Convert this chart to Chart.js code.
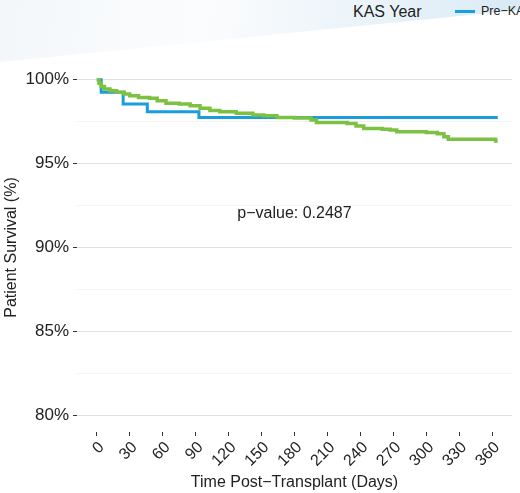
<!DOCTYPE html>
<html>
<head>
<meta charset="utf-8">
<script src="https://cdn.jsdelivr.net/npm/chart.js@4"></script>
<style>
  html, body { margin: 0; padding: 0; background: #fff; }
  #wrap { position: relative; width: 520px; height: 493px; overflow: hidden; font-family: "Liberation Sans", Arial, sans-serif; }
  #swoosh { position: absolute; left: 0; top: 0; width: 520px; height: 140px;
    background: linear-gradient(100deg, rgba(240,245,249,0.8) 0%, rgba(251,252,253,0.9) 38%, rgba(238,245,250,1) 62%, rgba(214,233,245,1) 100%);
    clip-path: polygon(0 0, 520px 0, 520px 10px, 0 62px); }
  #canvasBox { position: absolute; left: 0; top: 0; width: 520px; height: 493px; }
  .legTitle { position: absolute; left: 353px; top: 3px; font-size: 16px; color: #222; }
  .legKey { position: absolute; left: 455px; top: 10px; width: 20px; height: 3px; background: #1b9ddb; }
  .legText { position: absolute; left: 481px; top: 4px; font-size: 12.5px; color: #222; white-space: nowrap; }
</style>
</head>
<body>
<div id="wrap">
  <div id="swoosh"></div>
  <div class="legTitle">KAS Year</div>
  <div class="legKey"></div>
  <div class="legText">Pre−KAS</div>
  <div id="canvasBox"><canvas id="km" width="520" height="493"></canvas></div>
</div>
<script>
// 数据：Kaplan-Meier 生存曲线 (天, 生存率%)
const preDays = [0, 4, 24, 46, 93, 365];
const preSurv = [100, 99.25, 98.55, 98.1, 97.75, 97.75];

const postDays = [0, 2, 4, 7, 12, 18, 25, 30, 38, 48, 55, 63, 75, 85, 94, 103, 112, 127, 142, 152, 164, 180, 195, 200, 228, 236, 243, 260, 267, 273, 300, 310, 316, 320, 363, 365];
const postSurv = [100, 99.8, 99.6, 99.45, 99.35, 99.25, 99.15, 99.05, 98.95, 98.9, 98.75, 98.6, 98.55, 98.45, 98.3, 98.17, 98.1, 98.0, 97.9, 97.85, 97.75, 97.72, 97.6, 97.45, 97.4, 97.25, 97.1, 97.05, 97.0, 96.9, 96.85, 96.78, 96.6, 96.45, 96.35, 96.35];

const xTicks = [0, 30, 60, 90, 120, 150, 180, 210, 240, 270, 300, 330, 360];
const yTicks = [80, 82.5, 85, 87.5, 90, 92.5, 95, 97.5, 100];

const pLabel = 'p−value: 0.2487';
const pPos = { x: 180, y: 92.0 };

function toPoints(xs, ys) {
    return xs.map((x, i) => ({ x: x, y: ys[i] }));
}

// p值标注
const pValuePlugin = {
    id: 'pValue',
    afterDatasetsDraw(chart) {
        const ctx = chart.ctx;
        const x = chart.scales.x.getPixelForValue(pPos.x);
        const y = chart.scales.y.getPixelForValue(pPos.y);
        ctx.save();
        ctx.font = '16px "Liberation Sans", Arial, sans-serif';
        ctx.fillStyle = '#222';
        ctx.textAlign = 'center';
        ctx.textBaseline = 'middle';
        ctx.fillText(pLabel, x, y);
        ctx.restore();
    }
};

const font = { family: '"Liberation Sans", Arial, sans-serif' };

new Chart(document.getElementById('km'), {
    type: 'line',
    data: {
        datasets: [{
            label: 'Pre−KAS',
            data: toPoints(preDays, preSurv),
            borderColor: '#1b9ddb',
            borderWidth: 3,
            stepped: true,
            pointRadius: 0,
            order: 1
        }, {
            label: 'Post−KAS',
            data: toPoints(postDays, postSurv),
            borderColor: '#7cc142',
            borderWidth: 3.5,
            stepped: true,
            pointRadius: 0,
            order: 0
        }]
    },
    options: {
        responsive: false,
        animation: false,
        layout: { padding: { top: 63, right: 8, left: 0, bottom: 0 } },
        plugins: {
            legend: { display: false },
            tooltip: { enabled: false }
        },
        scales: {
            x: {
                type: 'linear',
                min: -18,
                max: 378,
                afterBuildTicks: axis => { axis.ticks = xTicks.map(v => ({ value: v })); },
                afterFit: axis => { axis.height = 61; },
                border: { display: false },
                grid: { drawOnChartArea: false, drawTicks: true, tickLength: 4, tickColor: '#333' },
                ticks: { minRotation: 45, maxRotation: 45, labelOffset: 5, color: '#222', padding: 2, font: { ...font, size: 16 } },
                title: { display: true, text: 'Time Post−Transplant (Days)', color: '#222', padding: { top: 0, bottom: 1 }, font: { ...font, size: 16 } }
            },
            y: {
                min: 79,
                max: 101,
                afterBuildTicks: axis => { axis.ticks = yTicks.map(v => ({ value: v })); },
                afterFit: axis => { axis.width = 77; },
                border: { display: false },
                grid: {
                    color: c => (c.tick && c.tick.value % 5 === 0) ? '#e0e0e0' : '#f4f4f4',
                    tickColor: c => (c.tick && c.tick.value % 5 === 0) ? '#333' : 'rgba(0,0,0,0)',
                    tickLength: 4
                },
                ticks: {
                    color: '#222',
                    padding: 4,
                    font: { ...font, size: 17 },
                    callback: v => (v % 5 === 0) ? v + '%' : ''
                },
                title: { display: true, text: 'Patient Survival (%)', color: '#222', padding: { top: 2, bottom: 0 }, font: { ...font, size: 16 } }
            }
        }
    },
    plugins: [pValuePlugin]
});
</script>
</body>
</html>
